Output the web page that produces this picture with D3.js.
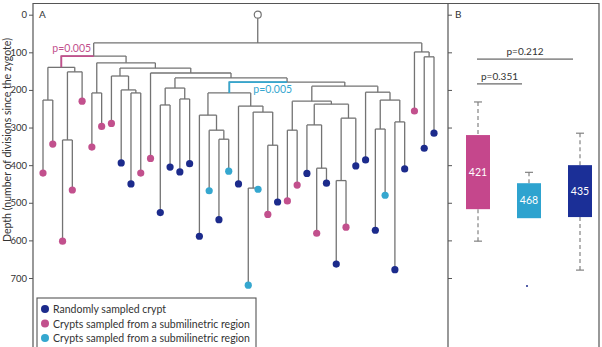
<!DOCTYPE html>
<html><head><meta charset="utf-8">
<script src="https://cdn.jsdelivr.net/npm/d3@7"></script>
<style>
html,body{margin:0;padding:0;background:#fff;}
svg{display:block;font-family:Lato,"Open Sans",sans-serif;}
</style></head>
<body><svg id="c" width="602" height="347"></svg>
<script>
// ---------- DATA ----------
// leaf depths (number of divisions since the zygote), left to right
const leafDepth = [421,344,602,466,230,352,297,289,394,450,421,382,526,405,418,396,589,468,545,416,450,719,464,531,498,495,453,422,581,448,663,565,402,386,573,480,678,410,256,355,315];
// leaf group: R = randomly sampled, P = pink submilinetric region, C = cyan submilinetric region
const leafGroup = ["P","P","P","P","P","P","P","P","R","R","P","P","R","R","R","R","R","C","R","C","R","C","C","P","R","P","P","R","P","R","R","P","R","R","R","C","R","R","P","R","R"];
// tree topology: internal node = [depth, left, right]; a number is a leaf index
const tree = [75,
  [110,
    [140, [227,0,1], [152,[333,2,3],4]],
    [128,
      [208,5,6],
      [142,
        [163,7,[200,8,[208,9,10]]],
        [155,11,
          [168,
            [195,[240,12,13],[224,14,15]],
            [179,
              [208,[267,16,[307,17,[331,18,19]]],[243,20,[259,[461,21,22],[347,23,24]]]],
              [190,
                [230,[307,25,26],[238,[293,27,[408,28,29]],[275,[441,30,31],32]]],
                [206,33,[227,[304,34,35],[285,36,37]]]
              ]
            ]
          ]
        ]
      ]
    ]
  ],
  [99,38,[112,39,40]]
];
const pinkClade = [0,4];     // leaf range of highlighted clade
const cyanClade = [16,24];
const cladePValue = ["p=0.005","p=0.005"];
const yTicks = [0,100,200,300,400,500,600,700];
const legendLabels = ["Randomly sampled crypt","Crypts sampled from a submilinetric region","Crypts sampled from a submilinetric region"];
// box plot summaries (panel B)
const boxGroups = ["P","C","R"];
const boxWhiskerTop = [232,419,315];
const boxQ1 = [320,448,400];
const boxQ3 = [517,541,538];
const boxWhiskerBottom = [602,null,679];
const boxLabel = ["421","468","435"];
const boxOutliers = [[],[721],[]];
const sigPairs = [["P","R","p=0.212",118],["P","C","p=0.351",184]];

// ---------- STYLE ----------
const col = {R:"#1c2b8c", P:"#c2508d", C:"#35a7cf"};
const boxCol = {R:"#1b2f97", P:"#c5478c", C:"#2ea3cf"};
const lineCol = "#737373", frameCol = "#555", textCol = "#333";

const svg = d3.select("#c");
const y = d3.scaleLinear().domain([0,700]).range([14.7,278]);
const x = d3.scaleLinear().domain([0,leafDepth.length-1]).range([43,434]);

// frames
const gF = svg.append("g").attr("fill","none").attr("stroke",frameCol).attr("stroke-width",1.2);
gF.append("path").attr("d","M33,360V3.5H448V360");
gF.append("path").attr("d","M448,3.5H599V360");

// axis A
const axA = svg.append("g").attr("transform","translate(33,0)")
  .call(d3.axisLeft(y).tickValues(yTicks).tickSize(4).tickPadding(2));
axA.select(".domain").remove();
axA.selectAll("line").attr("stroke",frameCol);
axA.selectAll("text").attr("font-size",9.5).attr("fill",textCol).attr("font-family","Lato, sans-serif");
// axis B ticks (inside)
const axB = svg.append("g").attr("transform","translate(448,0)")
  .call(d3.axisRight(y).tickValues(yTicks).tickSize(4).tickFormat(""));
axB.select(".domain").remove();
axB.selectAll("line").attr("stroke",frameCol);

svg.append("text").attr("x",39).attr("y",y(0)+3.5).attr("font-size",10).attr("fill",textCol).text("A");
svg.append("text").attr("x",455).attr("y",y(0)+3.5).attr("font-size",10).attr("fill",textCol).text("B");

svg.append("text").attr("transform",`translate(10.5,${140}) rotate(-90)`).attr("text-anchor","middle")
  .attr("font-size",10.5).attr("fill",textCol).text("Depth (number of divisions since the zygote)");

// ---------- DENDROGRAM ----------
const root = d3.hierarchy(tree, n => Array.isArray(n) ? n.slice(1) : null);
root.eachAfter(n => {
  if (n.children) {
    n.px = (n.children[0].px + n.children[1].px)/2;
    n.dep = n.data[0];
    n.lo = n.children[0].lo; n.hi = n.children[1].hi;
  } else {
    n.px = x(n.data); n.dep = leafDepth[n.data]; n.lo = n.hi = n.data;
  }
});
const gT = svg.append("g").attr("fill","none").attr("stroke",lineCol).attr("stroke-width",1.3);
// stem from zygote
gT.append("line").attr("x1",root.px).attr("x2",root.px).attr("y1",y(0)).attr("y2",y(root.dep));
root.each(n => {
  if (!n.children) return;
  gT.append("line").attr("x1",n.children[0].px).attr("x2",n.children[1].px)
    .attr("y1",y(n.dep)).attr("y2",y(n.dep));
  n.children.forEach(c => gT.append("line").attr("x1",c.px).attr("x2",c.px)
    .attr("y1",y(n.dep)).attr("y2",y(c.dep)));
});
// highlighted clades
const hl = [[pinkClade,col.P,cladePValue[0],-9,-4],[cyanClade,col.C,cladePValue[1],24,11]];
hl.forEach(([rng,c,lab,dx,dy]) => {
  let node = null;
  root.each(n => { if (n.children && n.lo===rng[0] && n.hi===rng[1]) node = n; });
  if (!node) return;
  const p = node.parent;
  svg.append("path").attr("fill","none").attr("stroke",c).attr("stroke-width",1.8)
    .attr("d",`M${p.px},${y(p.dep)}H${node.px}V${y(node.dep)}`);
  svg.append("text").attr("x",node.px+dx).attr("y",y(p.dep)+dy).attr("font-size",10.5)
    .attr("fill",c).text(lab);
});
// root circle
svg.append("circle").attr("cx",root.px).attr("cy",y(0)).attr("r",3.5)
  .attr("fill","#fff").attr("stroke",lineCol).attr("stroke-width",1.2);
// leaves
svg.append("g").selectAll("circle").data(root.leaves()).join("circle")
  .attr("cx",d=>d.px).attr("cy",d=>y(d.dep)).attr("r",3.6)
  .attr("fill",d=>col[leafGroup[d.data]]);

// legend
svg.append("rect").attr("x",37).attr("y",298).attr("width",219).attr("height",60)
  .attr("fill","#fff").attr("stroke",frameCol).attr("stroke-width",1.1);
["R","P","C"].forEach((g,i)=>{
  svg.append("circle").attr("cx",45).attr("cy",309+i*14.5).attr("r",4).attr("fill",col[g]);
  svg.append("text").attr("x",53).attr("y",313+i*14.5).attr("font-size",10.5).attr("fill",textCol).text(legendLabels[i]);
});

// ---------- BOX PLOTS ----------
const bx = d3.scalePoint().domain(boxGroups).range([478,580]);
const bw = 24;
const gB = svg.append("g");
boxGroups.forEach((g,i)=>{
  const cx = bx(g);
  const dash = gB.append("g").attr("stroke","#777").attr("stroke-width",1.1);
  dash.append("line").attr("x1",cx).attr("x2",cx).attr("y1",y(boxWhiskerTop[i])).attr("y2",y(boxQ1[i])).attr("stroke-dasharray","4,3");
  dash.append("line").attr("x1",cx-4).attr("x2",cx+4).attr("y1",y(boxWhiskerTop[i])).attr("y2",y(boxWhiskerTop[i]));
  if (boxWhiskerBottom[i]!=null) {
    dash.append("line").attr("x1",cx).attr("x2",cx).attr("y1",y(boxQ3[i])).attr("y2",y(boxWhiskerBottom[i])).attr("stroke-dasharray","4,3");
    dash.append("line").attr("x1",cx-4).attr("x2",cx+4).attr("y1",y(boxWhiskerBottom[i])).attr("y2",y(boxWhiskerBottom[i]));
  }
  gB.append("rect").attr("x",cx-bw/2).attr("y",y(boxQ1[i])).attr("width",bw)
    .attr("height",y(boxQ3[i])-y(boxQ1[i])).attr("fill",boxCol[g]);
  gB.append("text").attr("x",cx).attr("y",(y(boxQ1[i])+y(boxQ3[i]))/2+3.5).attr("text-anchor","middle")
    .attr("font-size",10.5).attr("fill","#fff").text(boxLabel[i]);
  boxOutliers[i].forEach(v=> gB.append("circle").attr("cx",cx-2).attr("cy",y(v)).attr("r",1).attr("fill",col.R));
});
sigPairs.forEach(([a,b,lab,d])=>{
  const x1 = bx(a)-1, x2 = bx(b)-7;
  svg.append("line").attr("x1",x1).attr("x2",x2).attr("y1",y(d)).attr("y2",y(d)).attr("stroke","#444").attr("stroke-width",1);
  svg.append("text").attr("x",(x1+x2)/2).attr("y",y(d)-4).attr("text-anchor","middle")
    .attr("font-size",10).attr("fill",textCol).text(lab);
});
</script></body></html>
